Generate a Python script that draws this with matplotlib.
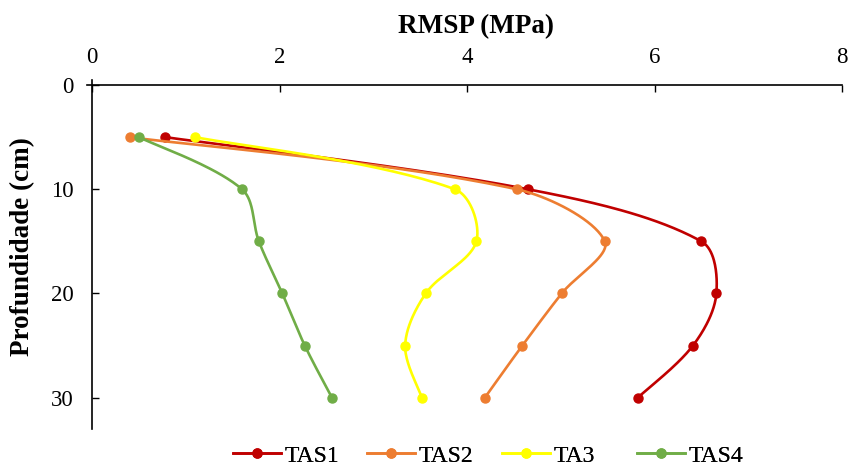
import numpy as np
import matplotlib
matplotlib.use("Agg")
import matplotlib.pyplot as plt
from matplotlib.lines import Line2D

plt.rcParams['font.family'] = ['Liberation Serif', 'DejaVu Serif']

depth = [5, 10, 15, 20, 25, 30]
series_names = ["TAS1", "TAS2", "TA3", "TAS4"]
tas1 = [0.78, 4.65, 6.50, 6.66, 6.41, 5.82]
tas2 = [0.40, 4.53, 5.47, 5.01, 4.59, 4.19]
ta3 = [1.10, 3.87, 4.10, 3.56, 3.34, 3.52]
tas4 = [0.50, 1.60, 1.78, 2.03, 2.27, 2.56]
colors = ["#C00000", "#ED7D31", "#FFFF00", "#70AD47"]
x_ticks = [0, 2, 4, 6, 8]
y_ticks = [0, 10, 20, 30]

W, H = 853, 468
ax_l, ax_r, ax_t, ax_b = 92, 842, 85, 429
XMAX, YMAX = 8, 33
sx_px = (ax_r - ax_l) / XMAX
sy_px = (ax_b - ax_t) / YMAX


def smooth(x, y, n=40):
    # Bezier smoothing with tangents scaled by neighbouring segment lengths
    P = np.column_stack([np.asarray(x, float) * sx_px, np.asarray(y, float) * sy_px])
    m = len(P)
    T = np.zeros_like(P)
    for i in range(m):
        a = P[max(i - 1, 0)]
        b = P[min(i + 1, m - 1)]
        T[i] = b - a
    d = np.linalg.norm(np.diff(P, axis=0), axis=1)
    out = []
    for i in range(m - 1):
        p1, p2 = P[i], P[i + 1]
        dprev = d[i - 1] if i > 0 else 0.0
        dnext = d[i + 1] if i + 1 < m - 1 else 0.0
        f1 = d[i] / (dprev + d[i]) if i > 0 else 0.5
        f2 = d[i] / (d[i] + dnext) if i + 1 < m - 1 else 0.5
        c1 = p1 + T[i] * f1 / 3.0
        c2 = p2 - T[i + 1] * f2 / 3.0
        t = np.linspace(0, 1, n)[:, None]
        bz = ((1 - t) ** 3) * p1 + 3 * ((1 - t) ** 2) * t * c1 + 3 * (1 - t) * t ** 2 * c2 + t ** 3 * p2
        out.append(bz)
    out = np.vstack(out)
    return out[:, 0] / sx_px, out[:, 1] / sy_px


fig = plt.figure(figsize=(W / 100, H / 100), dpi=100)
ax = fig.add_axes([ax_l / W, 1 - ax_b / H, (ax_r - ax_l) / W, (ax_b - ax_t) / H])

for name, vals, c in zip(series_names, [tas1, tas2, ta3, tas4], colors):
    cx, cy = smooth(vals, depth)
    ax.plot(cx, cy, color=c, lw=1.9, solid_capstyle='round')
    ax.plot(vals, depth, 'o', color=c, ms=6.5)

ax.set_xlim(0, XMAX)
ax.set_ylim(YMAX, 0)
ax.xaxis.tick_top()
ax.set_xticks(x_ticks)
ax.set_yticks(y_ticks)
ax.tick_params(axis='x', direction='in', length=5, labelsize=16.5, pad=12, width=1)
ax.tick_params(axis='y', direction='in', length=5, labelsize=16.5, pad=13, width=1)
for s in ['right', 'bottom']:
    ax.spines[s].set_visible(False)
ax.spines['top'].set_linewidth(1.2)
ax.spines['left'].set_linewidth(1.2)
ax.spines['top'].set_bounds(-0.055, XMAX)
ax.spines['left'].set_bounds(YMAX, -0.5)

fig.text(476 / W, 1 - 27 / H, 'RMSP (MPa)', fontsize=19.5, fontweight='bold',
         ha='center', va='center')
fig.text(23 / W, 1 - 247 / H, 'Profundidade (cm)', fontsize=19.5, fontweight='bold',
         ha='center', va='center', rotation=90)

leg_x = [233, 367, 502, 637]
for name, c, lx in zip(series_names, colors, leg_x):
    h = Line2D([], [], color=c, lw=1.9, marker='o', ms=6.5)
    lg = fig.legend([h], [name], loc='center left', bbox_to_anchor=(lx / W, 1 - 456 / H),
                    frameon=False, fontsize=17, handlelength=2.05, handletextpad=0.15,
                    borderpad=0, borderaxespad=0)
    fig.add_artist(lg)

fig.savefig('out.png', dpi=100)
